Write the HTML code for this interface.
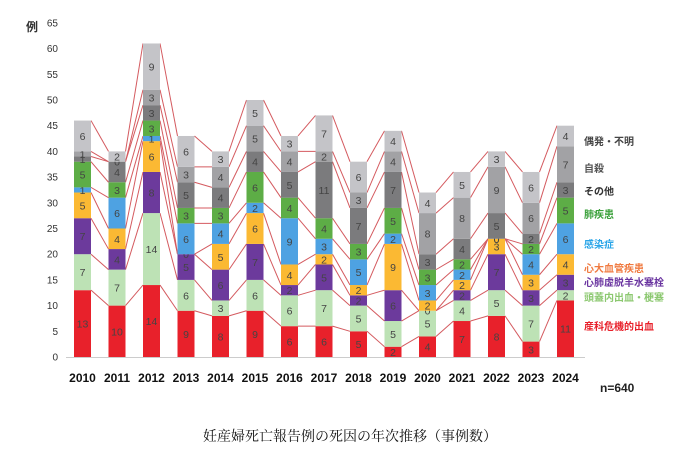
<!DOCTYPE html>
<html><head><meta charset="utf-8"><style>
body{margin:0;background:#fff;width:697px;height:459px;overflow:hidden}
svg{display:block}
</style></head><body>
<svg id="s" width="697" height="459" xmlns="http://www.w3.org/2000/svg" font-family="Liberation Sans, Noto Sans CJK JP, sans-serif"></svg>
<script>
const data=[[13,7,7,5,1,5,1,1,6],[10,7,4,4,6,3,4,0,2],[14,14,8,6,1,3,3,3,9],[9,6,5,0,6,3,5,3,6],[8,3,6,5,4,3,4,4,3],[9,6,7,6,2,6,4,5,5],[6,6,2,4,9,4,5,4,3],[6,7,5,2,3,4,11,2,7],[5,5,2,2,5,3,7,3,6],[2,5,6,9,2,5,7,4,4],[4,5,0,2,3,3,3,8,4],[7,4,2,2,2,2,4,8,5],[8,5,7,3,0,0,5,9,3],[3,7,3,3,4,2,2,6,6],[11,2,3,4,6,5,3,7,4]];
const cols=["#e8212b","#bde2b5","#6c3a9c","#fbb933","#4ea2e2","#5dad46","#7b7b7d","#a2a2a5","#c4c4c8"];
const s=document.getElementById('s');let h='';
const y0=357,k=5.14,bw=17;
for(let v=0;v<=65;v+=5){h+=`<text x="58" y="${y0-v*k+3.5}" font-size="10" text-anchor="end" fill="#333">${v}</text>`;}
h+=`<text x="26" y="31" font-size="12" font-weight="bold" fill="#333">例</text>`;
h+=`<line x1="66" y1="${y0+0.5}" x2="585" y2="${y0+0.5}" stroke="#ccc"/>`;
const X=i=>74+i*34.5;
let segs='',lines='';
data.forEach((d,i)=>{let c=0;d.forEach((v,j)=>{const yt=y0-(c+v)*k,yb=y0-c*k;
if(v>0)segs+=`<rect x="${X(i)}" y="${yt}" width="${bw}" height="${v*k}" fill="${cols[j]}"/>`;
segs+=`<text x="${X(i)+bw/2}" y="${(yt+yb)/2+4}" font-size="10.5" text-anchor="middle" fill="#444">${v}</text>`;
c+=v;
if(i<data.length-1){let c2=0;for(let m=0;m<=j;m++)c2+=data[i+1][m];
lines+=`<line x1="${X(i)+bw}" y1="${yt}" x2="${X(i+1)}" y2="${y0-c2*k}" stroke="#d45a5f" stroke-width="1"/>`;}
});
h+=`<text x="${X(i)+bw/2}" y="382" font-size="12" font-weight="bold" text-anchor="middle" fill="#111">${2010+i}</text>`;});
h+=lines+segs;
const leg=[["偶発・不明",145,"#444"],["自殺",172,"#555"],["その他",195,"#333"],["肺疾患",218,"#3aa03a"],["感染症",248,"#2aa5e8"],["心大血管疾患",272,"#f07a40"],["心肺虚脱羊水塞栓",286,"#6a35a0"],["頭蓋内出血・梗塞",301,"#8cc870"],["産科危機的出血",330,"#e8202a"]];
leg.forEach(l=>h+=`<text x="584" y="${l[1]}" font-size="10" font-weight="bold" fill="${l[2]}">${l[0]}</text>`);
h+=`<text x="600" y="392" font-size="12" font-weight="bold" fill="#222">n=640</text>`;
h+=`<text x="350" y="441" font-size="14" text-anchor="middle" fill="#111" font-family="Liberation Serif, Noto Serif CJK SC, serif">妊産婦死亡報告例の死因の年次推移（事例数）</text>`;
s.innerHTML=h;
</script>
</body></html>
